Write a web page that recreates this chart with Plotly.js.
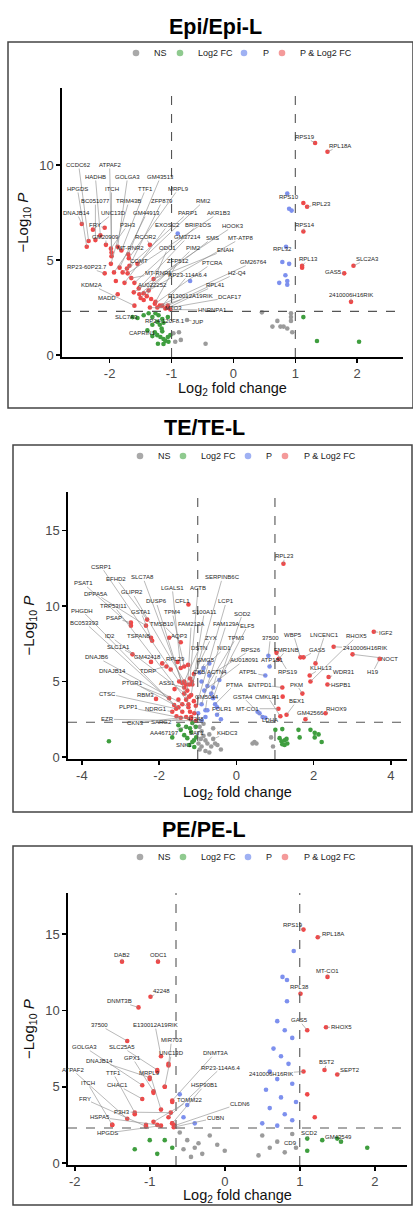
<!DOCTYPE html>
<html><head><meta charset="utf-8">
<script src="https://cdn.plot.ly/plotly-3.0.1.min.js"></script>
<style>html,body{margin:0;padding:0;background:#fff}#chart{width:413px;height:1208px}</style>
</head><body><div id="chart"></div>
<script>
// ---------------- thresholds ----------------
const FC_CUT = 1.0;
const P_CUT = 2.3;
const P3_FC_CUT_LEFT = 0.65;

// ---------------- legend / categories ----------------
const legendNames = ['NS', 'Log2 FC', 'P', 'P & Log2 FC'];
const panelTitles = ['Epi/Epi-L', 'TE/TE-L', 'PE/PE-L'];
const p1XTicks = [-2, -1, 0, 1, 2];
const p1YTicks = [0, 5, 10];
const p2XTicks = [-4, -2, 0, 2, 4];
const p2YTicks = [0, 5, 10, 15];
const p3XTicks = [-2, -1, 0, 1, 2];
const p3YTicks = [0, 5, 10, 15];

// ---------------- Panel 1 : Epi/Epi-L ----------------
const p1Fc = [-1.45,-1.33,-1.9,1.13,1.11,
 -1.63,-1.45,-1.37,-1.26,-1.21,-1.15,-1.23,-1.31,-1.19,-1.13,-1.06,-1.27,-1.15,-1.23,-1.18,-1.13,-1.06,-1.1,-1.05,-1.02,-1.16,-1.31,-1.22,-1.13,1.13,1.35,2.03,
 -0.97,-0.94,-0.88,-0.85,-0.45,0.93,0.93,0.71,0.93,0.63,0.76,0.81,0.87,0.95,0.46,
 -0.9,-0.7,0.9,0.94,0.79,0.9,0.84,0.74,0.87,0.87];
const p1P = [2.9,2.95,3.9,8.0,4.6,
 2.0,2.1,2.2,2.2,2.1,1.9,1.75,1.6,1.6,1.7,2.0,1.2,1.25,1.05,0.95,0.85,0.95,0.75,0.7,1.05,1.4,1.0,0.6,0.58,2.0,0.74,0.7,
 1.15,0.7,1.2,0.8,0.6,2.2,2.0,1.8,1.8,1.5,1.5,1.5,1.4,1.2,2.25,
 6.4,3.9,7.7,7.6,4.9,4.8,4.2,3.8,3.9,3.7];
const p1Gene = ['RPS19','RPL18A','RPS10','RPL23','RPS14','RPL32','RPL13','SLC2A3','GAS5','2410006H16RIK',
 'CCDC62','ATPAF2','HADHB','GOLGA3','GM43513','HPGDS','ITCH','TTF1','MRPL9','BC051077','TRIM43B','ZFP879','RMI2',
 'DNAJB14','UNC13D','GM44913','PARP1','AKR1B3','FRY','P3H3','EXOSC2','BRIP1OS','HOOK3','GM20909','RCOR2','GM37214',
 'SMS','MT-ATP8','MT-RNR2','ODC1','PIM2','ENAH','COMT','ZFP512','PTCRA','GM26764','RP23-60P23.7','MT-RNR1',
 'RP23-114A6.4','H2-Q4','KDM2A','AU022252','RPL41','MADD','E130012A19RIK','DCAF17','MTO3','HNRNPA1','SLC7A3',
 'RP24-120F8.1','JUP','CAPRIN1'];
const p1GeneFc = [1.32,1.52,0.87,1.19,1.13,0.85,1.11,1.94,1.79,1.9,
 -2.34,-1.97,-2.15,-1.87,-1.7,-2.37,-1.97,-1.81,-1.69,-2.23,-1.98,-1.68,-1.55,
 -2.45,-2.27,-1.84,-1.79,-1.71,-2.08,-1.98,-1.76,-1.6,-1.61,-2.06,-1.35,-1.53,
 -1.52,-1.45,-1.93,-1.4,-1.37,-1.29,-1.72,-1.26,-1.27,-1.19,-2.08,-1.65,
 -1.15,-1.06,-1.6,-1.5,-1.05,-1.87,-1.23,-1.1,-1.35,-1.02,-1.55,
 -1.31,-0.75,-1.39];
const p1GeneP = [11.16,10.7,8.5,7.8,6.5,5.7,4.7,4.7,4.3,2.8,
 6.0,5.2,6.3,5.7,5.3,5.7,5.4,5.5,5.1,6.05,4.8,4.7,4.8,
 6.9,6.6,4.6,4.35,4.3,6.7,5.6,3.8,3.8,3.3,5.8,5.8,3.5,
 3.2,3.25,4.35,3.1,3.4,4.0,4.55,2.8,2.7,2.6,4.3,4.05,
 2.6,2.6,2.6,3.0,2.5,3.2,2.5,2.45,2.5,2.4,1.95,
 2.0,1.85,1.3];
const p1LabFc = [1.15,1.73,0.89,1.42,1.15,0.79,1.21,2.16,1.61,1.9,
 -2.5,-2.0,-2.23,-1.71,-1.18,-2.52,-1.97,-1.42,-0.89,-2.23,-1.69,-1.15,-0.48,
 -2.53,-1.94,-1.40,-0.74,-0.24,-2.24,-1.71,-1.06,-0.58,0.0,-2.06,-1.42,-0.74,
 -0.34,0.13,-1.66,-1.06,-0.65,-0.13,-1.53,-0.89,-0.34,0.32,-2.37,-1.21,
 -0.73,0.06,-2.29,-1.31,-0.29,-2.05,-0.69,-0.05,-0.97,-0.34,-1.73,
 -1.11,-0.58,-1.47];
const p1LabP = [11.47,11.0,8.3,7.95,6.84,5.58,5.05,5.05,4.37,3.16,
 10.0,10.0,9.37,9.37,9.37,8.74,8.74,8.74,8.74,8.1,8.1,8.1,8.1,
 7.47,7.47,7.47,7.47,7.47,6.84,6.84,6.84,6.84,6.79,6.21,6.21,6.21,
 6.16,6.16,5.63,5.63,5.63,5.53,4.95,4.95,4.84,4.89,4.63,4.32,
 4.21,4.32,3.68,3.68,3.68,3.0,3.1,3.05,2.47,2.37,2.0,
 1.79,1.74,1.16];

// ---------------- Panel 2 : TE/TE-L ----------------
const p2Fc = [-1.5,-1.2,-1.35,-1.6,-1.1,-1.25,-1.52,-1.7,-1.15,-1.4,-1.18,-1.55,-1.05,1.2,
 -0.99,-0.7,-0.6,-0.9,-0.5,-0.75,0.55,0.6,-0.4,-0.9,
 1.19,1.61,1.92,2.03,2.13,2.03,1.64,2.21,1.12,1.17,1.25,1.3,1.19,1.32,1.25,1.01,
 -3.3,-1.66,-1.35,-1.17,-1.27,-1.1,-1.22,-1.09,-1.44,-1.04,-1.5,-1.2,-1.05,
 -0.95,-0.9,-0.85,-0.8,-0.75,-0.9,-0.95,-0.7,-0.65,-0.6,-0.55,-0.85,-0.8,-0.7,-0.49,-0.92,-0.98,0.47,0.42,0.52,0.9,0.95,-0.4];
const p2P = [3.8,3.0,4.2,4.5,3.7,6.1,6.3,5.8,5.0,3.5,2.5,2.7,3.4,4.0,
 2.9,6.2,4.6,5.0,3.3,3.1,3.0,2.9,2.5,2.4,
 1.85,1.8,1.8,1.6,1.5,1.3,1.3,1.0,1.25,1.05,1.1,1.2,0.85,0.9,0.8,1.8,
 1.05,1.3,1.45,1.65,1.25,1.1,0.8,0.66,1.8,1.3,2.1,1.9,2.0,
 2.0,1.7,1.4,1.1,0.9,0.7,0.5,1.5,0.7,1.9,0.9,2.2,0.4,0.3,0.8,1.2,0.9,1.0,0.9,0.9,1.3,0.7,0.5];
const p2Gene = ['RPL23','WBP5','FMR1NB','GAS5','LNCENC1','RHOX5','IGF2','2410006H16RIK','NOCT','H19',
 'KLHL13','WDR31','HSPB1','PKM','RPS19','37500','ATP1B1','ATP5L','ENTPD1','CMKLR1',
 'MT-CO1','BEX1','GM42566','RHOX9','LDHA','GSTA4','SERPINB6C','LCP1','SOD2','S100A11',
 'FAM129A','FAM213A','ELF5','ZYX','TPM3','RPS26','NID1','DSTN','AU018091','SMG5',
 'ACTN4','PTMA','GM5044','FOLR1','42248','KHDC3','SAT1','SNK1','AA467197','SARG2',
 'CKN3','EZR','NDRG1','PLPP1','CTSC','RBM3','PTGR1','ASS1','CKB','CSRP1',
 'EFHD2','SLC7A8','PSAT1','DPPA5A','GLIPR2','LGALS1','ACTB','TRP53I11','DUSP6','CFL1',
 'PHGDH','GSTA1','TPM4','PSAP','BC053393','TMSB10','ID2','TSPAN8','AQP3','SLC1A1',
 'DNAJB6','GM42418','RPL29','DNAJB14','TDRP'];
const p2GeneFc = [1.22,1.66,1.1,1.74,2.05,1.92,3.56,2.52,3.01,3.71,
 1.9,2.39,2.36,1.71,1.04,0.83,0.86,0.75,1.19,1.14,
 1.09,1.3,1.79,2.31,0.75,0.68,-1.14,-1.09,-0.6,-1.17,
 -0.9,-1.27,-0.44,-1.22,-0.75,-0.7,-0.85,-1.35,-0.83,-0.95,
 -0.65,-0.55,-0.8,-0.5,-0.8,-0.6,-1.14,-1.14,-1.3,-1.17,
 -1.3,-1.05,-1.66,-1.44,-1.56,-2.08,-1.74,-1.35,-1.1,-1.48,
 -2.31,-1.4,-2.73,-2.34,-1.3,-1.44,-1.2,-1.3,-1.24,-1.24,
 -1.61,-2.21,-1.35,-2.73,-1.4,-1.44,-1.22,-2.18,-1.74,-2.69,
 -1.24,-2.21,-1.92,-1.5,-1.81];
const p2GeneP = [12.8,6.6,6.5,6.6,6.2,5.0,8.3,7.3,6.8,6.5,
 5.4,5.3,4.8,4.2,6.9,6.7,6.0,5.4,4.6,2.7,
 3.2,2.8,2.5,2.9,2.6,2.65,4.8,2.9,3.9,4.1,
 3.5,4.4,5.1,4.8,4.7,5.4,5.9,5.0,4.4,5.6,
 4.2,3.5,3.1,2.8,2.65,1.2,2.25,1.0,2.0,2.65,
 2.65,2.4,3.0,2.6,3.2,3.85,3.9,4.6,5.5,5.0,
 9.1,4.9,8.7,8.7,4.8,5.9,5.2,3.8,3.5,10.1,
 3.45,7.9,6.0,8.9,3.0,7.6,4.0,7.7,7.9,6.8,
 3.3,6.3,6.2,3.3,6.0];
const p2LabFc = [1.25,1.48,1.3,2.1,2.29,3.12,3.87,3.32,3.97,3.53,
 2.2,2.78,2.72,1.56,1.35,0.88,0.94,0.31,0.6,0.81,
 0.29,1.56,1.92,2.6,0.86,0.16,-0.36,-0.26,0.16,-0.83,
 -0.26,-1.17,0.29,-0.65,0.0,0.39,-0.31,-0.96,0.2,-0.78,
 -0.49,-0.05,-0.75,-0.36,-1.06,-0.23,-1.04,-1.35,-1.87,-1.95,
 -2.6,-3.35,-2.08,-2.8,-3.35,-2.34,-2.7,-1.79,-0.96,-3.5,
 -3.11,-2.42,-3.97,-3.64,-2.7,-1.66,-0.99,-3.17,-2.08,-1.4,
 -4.0,-2.47,-1.66,-3.17,-3.92,-1.92,-3.27,-2.52,-1.48,-3.04,
 -3.61,-2.31,-1.58,-3.22,-2.29];
const p2LabP = [13.3,8.1,7.1,7.1,8.1,8.0,8.2,7.2,6.5,5.6,
 5.9,5.6,4.8,4.8,5.6,7.9,6.4,5.6,4.8,4.0,
 3.2,3.7,2.9,3.2,2.45,4.0,11.9,10.3,9.5,9.6,
 8.8,8.8,8.7,7.9,7.9,7.1,7.2,7.2,6.4,6.4,
 5.6,4.8,4.0,3.2,2.5,1.6,1.6,0.8,1.6,2.3,
 2.25,2.5,3.2,3.3,4.2,4.1,4.9,4.9,5.6,12.6,
 11.8,11.9,11.5,10.8,10.9,11.2,11.2,10.0,10.3,10.3,
 9.7,9.6,9.6,9.2,8.9,8.8,8.0,8.0,8.0,7.3,
 6.6,6.6,6.5,5.7,5.7];

// ---------------- Panel 3 : PE/PE-L ----------------
const p3Fc = [-0.75,-0.9,-1.0,-0.8,-0.95,-0.7,-1.2,-1.05,-0.7,-1.5,
 0.92,0.77,0.83,0.83,0.7,0.8,0.9,0.65,0.75,0.85,0.6,0.7,0.9,0.55,0.75,0.95,0.6,0.8,0.9,0.5,0.7,-0.6,-0.5,-0.55,-0.4,
 1.1,1.2,
 1.3,1.5,1.9,1.1,-1.0,-0.7,-0.8,-1.2,-0.9,
 -0.6,-0.5,-0.4,-0.3,-0.2,-0.1,0.0,-0.45,-0.55,-0.35,0.5,0.6,0.7,0.8,0.9,0.45];
const p3P = [6.5,6.0,5.5,5.0,4.6,4.0,3.2,2.5,2.6,2.5,
 13.9,12.2,12.0,10.6,9.3,8.7,8.2,7.5,7.0,6.5,6.0,5.5,5.2,4.8,4.3,4.0,3.6,3.2,2.8,2.6,2.45,4.5,3.8,3.0,2.6,
 4.5,3.0,
 1.5,1.6,1.0,0.8,1.5,1.0,1.5,0.9,0.6,
 2.0,1.5,1.0,0.6,1.8,1.2,0.8,0.4,0.9,1.3,1.8,1.0,1.4,0.7,1.9,0.5];
const p3Gene = ['RPS19','RPL18A','MT-CO1','RPL38','GAS5','RHOX5','BST2','SEPT2','2410006H16RIK','SCD2','GM43549','CD9',
 'DAB2','ODC1','42248','DNMT3B','37500','E130012A19RIK','MIR703','GOLGA3','SLC25A5','UNC13D','DNMT3A','DNAJB14',
 'GPX1','MRPL9','TTF1','ATPAF2','RP23-114A6.4','ITCH','CHAC1','HSP90B1','TOMM22','FRY','P3H3','HSPA5','CLDN6','CUBN','HPGDS'];
const p3GeneFc = [1.05,1.24,1.37,1.01,1.1,1.35,1.33,1.5,1.05,1.1,1.55,0.95,
 -1.37,-0.89,-0.99,-1.15,-1.3,-0.85,-0.75,-1.1,-0.9,-0.8,-0.7,-1.0,
 -0.95,-0.85,-1.2,-1.3,-0.75,-1.5,-1.1,-0.7,-0.95,-1.05,-0.72,-0.9,-0.67,-0.68,-0.85];
const p3GeneP = [15.3,14.8,12.2,11.1,8.7,8.9,6.1,5.8,6.0,1.6,1.4,1.0,
 13.2,13.2,10.9,10.2,8.0,7.0,6.4,5.1,6.1,5.0,4.1,5.6,
 4.7,3.5,3.3,2.9,3.0,2.5,4.2,2.6,2.7,2.4,3.3,2.5,2.45,2.35,2.45];
const p3LabFc = [0.91,1.44,1.37,0.99,0.99,1.55,1.36,1.67,0.62,1.13,1.51,0.87,
 -1.37,-0.89,-0.85,-1.41,-1.67,-0.93,-0.71,-1.87,-1.37,-0.71,-0.13,-1.67,
 -1.23,-1.0,-1.49,-2.03,-0.05,-1.83,-1.43,-0.27,-0.47,-1.87,-1.37,-1.67,0.2,-0.13,-1.57];
const p3LabP = [15.59,15.0,12.57,11.53,9.36,8.9,6.6,6.1,5.85,2.0,1.7,1.3,
 13.62,13.62,11.26,10.6,9.04,9.04,8.05,7.6,7.6,7.2,7.2,6.68,
 6.88,5.9,5.9,6.1,6.25,5.24,5.1,5.1,4.1,4.2,3.34,3.0,3.9,2.95,1.96];

// ---------------- drawing ----------------
const W = 413, H = 1208;
const fx = v => v / W, fy = v => 1 - v / H;
const COLORS = {N: '#9b9b9b', F: '#3f9e3f', P: '#7d90ee', B: '#ef4848'};
const LEG_COLORS = ['#a9a9a9', '#8fca8f', '#9fb1f3', '#f49a9a'];

const panels = [
  {fc: p1Fc, p: p1P, gene: p1Gene, gFc: p1GeneFc, gP: p1GeneP, lFc: p1LabFc, lP: p1LabP,
   cutL: FC_CUT, cutR: FC_CUT, xt: p1XTicks, yt: p1YTicks,
   box: [62, 88, 403, 357], xr: [-2.77, 2.74], yr: [-0.1, 14.05],
   title: [215, 27], frame: [8, 42, 413, 408], legY: 53, legDot: [136, 180, 244, 282], legTxt: [152, 196, 261, 298],
   xTitleY: 389, yTitleX: 23},
  {fc: p2Fc, p: p2P, gene: p2Gene, gFc: p2GeneFc, gP: p2GeneP, lFc: p2LabFc, lP: p2LabP,
   cutL: FC_CUT, cutR: FC_CUT, xt: p2XTicks, yt: p2YTicks,
   box: [68, 492, 407, 759], xr: [-4.36, 4.42], yr: [-0.13, 17.55],
   title: [204, 428], frame: [13, 445, 412, 812], legY: 456, legDot: [140, 183, 248, 285], legTxt: [156, 199, 264, 302],
   xTitleY: 793, yTitleX: 29},
  {fc: p3Fc, p: p3P, gene: p3Gene, gFc: p3GeneFc, gP: p3GeneP, lFc: p3LabFc, lP: p3LabP,
   cutL: P3_FC_CUT_LEFT, cutR: FC_CUT, xt: p3XTicks, yt: p3YTicks,
   box: [68, 893, 407, 1165], xr: [-2.09, 2.43], yr: [-0.13, 17.7],
   title: [204, 830], frame: [13, 846, 412, 1205], legY: 857, legDot: [140, 183, 248, 285], legTxt: [156, 199, 264, 302],
   xTitleY: 1196, yTitleX: 29}
];

function cat(fc, p, cl, cr) {
  const big = fc < -cl || fc > cr;
  const sig = p > P_CUT;
  return big && sig ? 'B' : sig ? 'P' : big ? 'F' : 'N';
}

const data = [], layout = {
  width: W, height: H, margin: {l: 0, r: 0, t: 0, b: 0}, showlegend: false,
  paper_bgcolor: '#fff', plot_bgcolor: 'rgba(0,0,0,0)',
  font: {family: 'Liberation Sans, Arial, sans-serif', color: '#222'},
  shapes: [], annotations: []
};

panels.forEach((pn, i) => {
  const n = i === 0 ? '' : String(i + 1);
  const xa = 'x' + n, ya = 'y' + n;
  const allFc = pn.fc.concat(pn.gFc), allP = pn.p.concat(pn.gP);
  ['N', 'F', 'P', 'B'].forEach(c => {
    const xs = [], ys = [];
    allFc.forEach((v, k) => { if (cat(v, allP[k], pn.cutL, pn.cutR) === c) { xs.push(v); ys.push(allP[k]); } });
    data.push({type: 'scatter', mode: 'markers', x: xs, y: ys, xaxis: xa, yaxis: ya,
      marker: {size: 4.6, color: COLORS[c]}, hoverinfo: 'skip'});
  });
  const axBase = {showline: true, linecolor: '#000', linewidth: 1.6, ticks: 'outside', ticklen: 4, tickwidth: 1.6,
    tickcolor: '#000', showgrid: false, zeroline: false, tickfont: {size: 13, color: '#4a4a4a'}, fixedrange: true};
  layout['xaxis' + n] = Object.assign({}, axBase, {domain: [fx(pn.box[0]), fx(pn.box[2])], range: pn.xr, anchor: ya,
    tickvals: pn.xt, ticktext: pn.xt.map(String)});
  layout['yaxis' + n] = Object.assign({}, axBase, {domain: [fy(pn.box[3]), fy(pn.box[1])], range: pn.yr, anchor: xa,
    tickvals: pn.yt, ticktext: pn.yt.map(String)});
  // threshold lines
  const dl = {color: '#555', width: 1.1, dash: 'dash'};
  layout.shapes.push({type: 'line', xref: xa, yref: ya + ' domain', x0: -pn.cutL, x1: -pn.cutL, y0: 0, y1: 1, line: dl});
  layout.shapes.push({type: 'line', xref: xa, yref: ya + ' domain', x0: pn.cutR, x1: pn.cutR, y0: 0, y1: 1, line: dl});
  layout.shapes.push({type: 'line', xref: xa + ' domain', yref: ya, x0: 0, x1: 1, y0: P_CUT, y1: P_CUT, line: dl});
  // frame
  layout.shapes.push({type: 'rect', xref: 'paper', yref: 'paper', x0: fx(pn.frame[0]), x1: fx(pn.frame[2]),
    y0: fy(pn.frame[3]), y1: fy(pn.frame[1]), line: {color: '#444', width: 1.5}});
  // title
  layout.annotations.push({xref: 'paper', yref: 'paper', x: fx(pn.title[0]), y: fy(pn.title[1]), text: '<b>' + panelTitles[i] + '</b>',
    showarrow: false, xanchor: 'center', yanchor: 'middle', font: {size: 21.5, color: '#000'}});
  // legend
  legendNames.forEach((nm, k) => {
    const cx = pn.legDot[k], cy = pn.legY;
    layout.shapes.push({type: 'circle', xref: 'paper', yref: 'paper', x0: fx(cx - 3.3), x1: fx(cx + 3.3),
      y0: fy(cy + 3.3), y1: fy(cy - 3.3), fillcolor: LEG_COLORS[k], line: {width: 0}});
    layout.annotations.push({xref: 'paper', yref: 'paper', x: fx(pn.legTxt[k]), y: fy(cy), text: nm, showarrow: false,
      xanchor: 'left', yanchor: 'middle', font: {size: 9, color: '#222'}});
  });
  // axis titles
  layout.annotations.push({xref: 'paper', yref: 'paper', x: fx((pn.box[0] + pn.box[2]) / 2), y: fy(pn.xTitleY),
    text: 'Log<sub>2</sub> fold change', showarrow: false, xanchor: 'center', yanchor: 'middle', font: {size: 14.5, color: '#111'}});
  layout.annotations.push({xref: 'paper', yref: 'paper', x: fx(pn.yTitleX), y: fy((pn.box[1] + pn.box[3]) / 2),
    text: '\u2212Log<sub>10</sub> <i>P</i>', textangle: -90, showarrow: false, xanchor: 'center', yanchor: 'middle',
    font: {size: 15, color: '#111'}});
  // gene labels with connectors
  pn.gene.forEach((g, k) => {
    layout.annotations.push({xref: xa, yref: ya, x: pn.gFc[k], y: pn.gP[k], ax: pn.lFc[k], ay: pn.lP[k],
      axref: xa, ayref: ya, text: g, showarrow: true, arrowhead: 0, arrowwidth: 0.6, arrowcolor: '#8a8a8a',
      standoff: 0, startstandoff: 0, font: {size: 6, color: '#1e1e1e'}, borderpad: 0});
  });
});

Plotly.newPlot('chart', data, layout, {staticPlot: true, displayModeBar: false});
</script></body></html>
